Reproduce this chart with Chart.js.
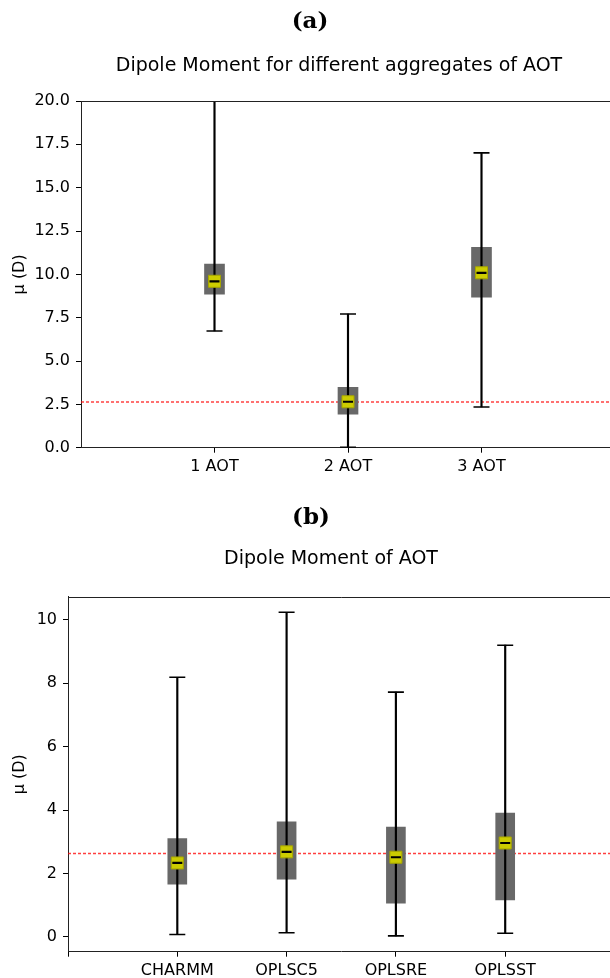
<!DOCTYPE html>
<html lang="en">
<head>
<meta charset="UTF-8" />
<title>Dipole Moment of AOT</title>
<script src="https://cdn.jsdelivr.net/npm/chart.js"></script>
<style>
  html, body { margin: 0; padding: 0; width: 610px; height: 978px; overflow: hidden; background: #fff; }
  .panel { position: absolute; left: 0; }
  .tag { position: absolute; width: 200px; text-align: center; font: bold 23px "DejaVu Serif"; line-height: 24px; color: #000; }
  .head { position: absolute; width: 600px; text-align: center; font: 19px "DejaVu Sans"; line-height: 22px; color: #000; }
</style>
</head>
<body>
<canvas id="chartA" class="panel" style="top:0" width="640" height="495"></canvas>
<canvas id="chartB" class="panel" style="top:495px" width="640" height="483"></canvas>
<div class="tag" style="left:210px; top:8px">(a)</div>
<div class="head" style="left:39px; top:53px">Dipole Moment for different aggregates of AOT</div>
<div class="tag" style="left:211px; top:504px">(b)</div>
<div class="head" style="left:31px; top:546px">Dipole Moment of AOT</div>

<script>
  // (a) aggregates
  const groupsA = ['1 AOT', '2 AOT', '3 AOT'];
  const lowA  = [6.73, 0.02, 2.35];
  const q1A   = [8.86, 1.93, 8.69];
  const medA  = [9.60, 2.65, 10.09];
  const q3A   = [10.59, 3.48, 11.56];
  const highA = [21.5, 7.71, 17.01];
  const yTicksA = [0, 2.5, 5, 7.5, 10, 12.5, 15, 17.5, 20];

  // (b) force fields
  const groupsB = ['CHARMM', 'OPLSC5', 'OPLSRE', 'OPLSST'];
  const lowB  = [0.075, 0.13, 0.03, 0.11];
  const q1B   = [1.66, 1.82, 1.06, 1.16];
  const medB  = [2.33, 2.68, 2.51, 2.96];
  const q3B   = [3.10, 3.63, 3.46, 3.90];
  const highB = [8.19, 10.24, 7.72, 9.20];
  const yTicksB = [0, 2, 4, 6, 8, 10];

  // reference dipole moment (dashed red line)
  const refDipole = 2.63;

  Chart.defaults.font.family = 'DejaVu Sans';
  Chart.defaults.font.size = 16;
  Chart.defaults.color = '#000';

  // top/right spines of the axes box
  const frame = {
    id: 'frame',
    afterDatasetsDraw(chart) {
      const { ctx, chartArea: a } = chart;
      const top = Math.round(a.top) + 0.5;
      ctx.save();
      ctx.strokeStyle = '#222';
      ctx.lineWidth = 1;
      ctx.beginPath();
      ctx.moveTo(a.left, top);
      ctx.lineTo(a.right, top);
      ctx.lineTo(a.right, a.bottom);
      ctx.stroke();
      ctx.restore();
    }
  };

  function boxDatasets(n, low, q1, med, q3, high, boxW) {
    const at = (arr) => arr.map((v, i) => ({ x: i + 1, y: v }));
    return [
      // whisker caps
      { type: 'scatter', order: 0, data: at(low).concat(at(high)),
        pointStyle: 'line', pointRadius: 8, pointHoverRadius: 8,
        pointBorderWidth: 1.6, pointBorderColor: '#000' },
      // median tick
      { type: 'scatter', order: 1, data: at(med),
        pointStyle: 'line', pointRadius: 5, pointHoverRadius: 5,
        pointBorderWidth: 2.2, pointBorderColor: '#000' },
      // yellow marker
      { type: 'scatter', order: 2, data: at(med),
        pointStyle: 'rect', pointRadius: 8.5, pointHoverRadius: 8.5,
        pointBackgroundColor: '#cccc00', pointBorderColor: '#a6a600', pointBorderWidth: 1 },
      // whisker line
      { type: 'bar', order: 3, grouped: false, barThickness: 1.5,
        backgroundColor: '#000',
        data: low.map((v, i) => ({ x: i + 1, y: [v, high[i]] })) },
      // interquartile box
      { type: 'bar', order: 4, grouped: false, barThickness: boxW,
        backgroundColor: 'rgb(104,104,104)',
        data: q1.map((v, i) => ({ x: i + 1, y: [v, q3[i]] })) },
      { type: 'line', order: 5, data: [{ x: 0, y: refDipole }, { x: n + 1, y: refDipole }],
        borderColor: 'rgba(255,0,0,0.75)', borderWidth: 1.5, borderDash: [3, 2],
        pointRadius: 0 }
    ];
  }

  function makeChart(id, groups, datasets, o) {
    return new Chart(document.getElementById(id), {
      type: 'bar',
      data: { datasets },
      options: {
        responsive: false,
        animation: false,
        devicePixelRatio: 1,
        layout: { padding: { top: o.padTop, right: o.padRight, left: 0, bottom: 0 } },
        plugins: { legend: { display: false }, tooltip: { enabled: false } },
        scales: {
          x: {
            type: 'linear', min: 0, max: groups.length + 1, offset: false,
            afterBuildTicks: s => { s.ticks = o.xTicks.map(v => ({ value: v })); },
            afterFit: s => { s.height = o.axisH; },
            ticks: { callback: v => groups[v - 1] || '', padding: 5, autoSkip: false, maxRotation: 0 },
            grid: { drawOnChartArea: false, offset: false, tickLength: 5, tickColor: '#000' },
            border: { color: '#222', width: 1 }
          },
          y: {
            min: o.yMin, max: o.yMax,
            afterBuildTicks: s => { s.ticks = o.yTicks.map(v => ({ value: v })); },
            afterFit: s => { s.width = o.leftW; },
            ticks: { callback: o.fmt, padding: 6 },
            grid: { drawOnChartArea: false, tickLength: 5, tickColor: '#000' },
            border: { color: '#222', width: 1 },
            title: { display: true, text: 'μ (D)', padding: { top: 10, bottom: 0 } }
          }
        }
      },
      plugins: [frame]
    });
  }

  makeChart('chartA', groupsA,
    boxDatasets(groupsA.length, lowA, q1A, medA, q3A, highA, 20),
    { padTop: 101, padRight: 25, axisH: 47.3, leftW: 81, yMin: 0, yMax: 20,
      yTicks: yTicksA, xTicks: [1, 2, 3], fmt: v => v.toFixed(1) });

  makeChart('chartB', groupsB,
    boxDatasets(groupsB.length, lowB, q1B, medB, q3B, highB, 19),
    { padTop: 101.7, padRight: 25.5, axisH: 26.3, leftW: 68, yMin: -0.47, yMax: 10.73,
      yTicks: yTicksB, xTicks: [0, 1, 2, 3, 4, 5], fmt: v => String(v) });
</script>
</body>
</html>
